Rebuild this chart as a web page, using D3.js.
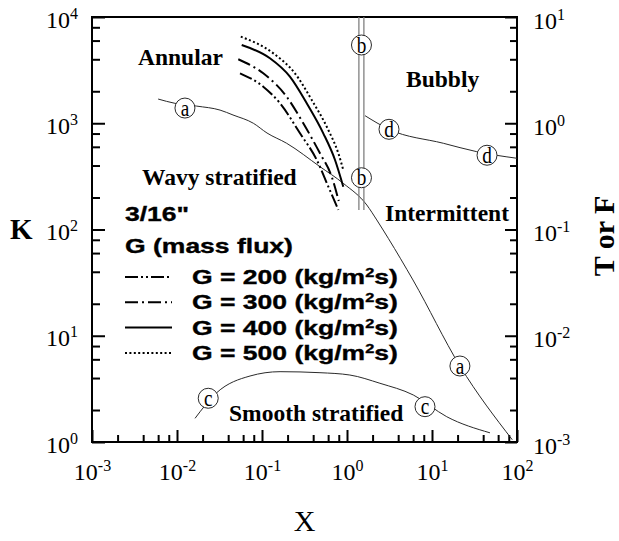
<!DOCTYPE html>
<html><head><meta charset="utf-8">
<script src="https://cdn.jsdelivr.net/npm/d3@7"></script>
<style>body{margin:0;background:#fff}svg{display:block}</style>
</head><body>
<svg id="chart" width="619" height="541"></svg>
<script>
// ---------- tick data ----------
const xMajor = [1e-3, 1e-2, 1e-1, 1e0, 1e1, 1e2];
const xTickExp = ["-3", "-2", "-1", "0", "1", "2"];
const kMajor = [1, 10, 100, 1000, 10000];
const kTickExp = ["0", "1", "2", "3", "4"];
const tfMajor = [1e-3, 1e-2, 1e-1, 1, 10];
const tfTickExp = ["-3", "-2", "-1", "0", "1"];
const minorSteps = [2, 4, 6, 8];

// ---------- transition curves ----------
// curve a : F versus X (right axis)
const curveA_X = [0.006, 0.00946, 0.01706, 0.0321, 0.0456, 0.0791, 0.1146, 0.195, 0.481, 0.904, 1.71, 2.24, 3.06, 5.97, 21.3, 88];
const curveA_F = [1.69, 1.54, 1.45, 1.33, 1.196, 1.0, 0.809, 0.648, 0.390, 0.272, 0.170, 0.123, 0.0826, 0.0335, 0.00519, 0.00105];
// curve b : constant X boundary (double line)
const curveB_X = [1.38, 1.58];
const curveB_K = [10000, 153];
// curve c : K versus X (left axis)
const curveC_X = [0.0163, 0.0293, 0.0723, 0.163, 0.481, 1.08, 2.44, 6.03, 14.9, 48.1];
const curveC_K = [1.67, 2.91, 4.18, 4.59, 4.49, 4.27, 3.57, 2.77, 1.73, 1.22];
// curve d : T versus X (right axis)
const curveD_X = [1.63, 3.12, 13.6, 33.6, 100];
const curveD_T = [1.178, 0.877, 0.648, 0.540, 0.468];

// circled curve labels
const labelA = [[0.0124, 1.39], [21.3, 0.00519]];   // X, F
const labelB = [[1.48, 5.45], [1.48, 0.307]];       // X, T
const labelC = [[0.0233, 2.58], [8.27, 2.15]];      // X, K
const labelD = [[3.12, 0.877], [44.4, 0.50]];       // X, T

// ---------- annular transition for each mass flux (K versus X) ----------
const massFlux = [200, 300, 400, 500];
const g200_X = [0.0551, 0.1035, 0.163, 0.28, 0.441, 0.603, 0.791];
const g200_K = [2950, 2210, 1541, 804, 451, 253, 153];
const g300_X = [0.0526, 0.1035, 0.195, 0.306, 0.481, 0.661, 0.80];
const g300_K = [4000, 2950, 1778, 1000, 521, 314, 185];
const g400_X = [0.0577, 0.124, 0.213, 0.336, 0.526, 0.723, 0.904];
const g400_K = [5450, 4085, 2743, 1541, 804, 451, 253];
const g500_X = [0.0563, 0.136, 0.244, 0.385, 0.603, 0.791, 0.904];
const g500_K = [6530, 4550, 2950, 1656, 864, 521, 363];
const gDash = ["13,3,2,3,2,3", "13,4,2,4", null, "2,2.4"];

// region names
const regionNames = ["Annular", "Bubbly", "Wavy stratified", "Intermittent", "Smooth stratified"];

// ---------- drawing ----------
const svg = d3.select("#chart");
const L = 92, R = 517, T = 17, B = 442;
const x = d3.scaleLog().domain([1e-3, 1e2]).range([L, R]);
const yK = d3.scaleLog().domain([1, 1e4]).range([B, T]);
const yTF = d3.scaleLog().domain([1e-3, 1e1]).range([B, T]);

const minors = majors => majors.slice(0, -1).flatMap(m => minorSteps.map(s => m * s));
const SERIF = "'Liberation Serif','Times New Roman',serif";
const SANS = "'Liberation Sans',Arial,sans-serif";

function powerLabels(g, exps, supDy) {
  g.selectAll(".tick text").each(function (d, i) {
    const t = d3.select(this);
    t.text(null);
    t.append("tspan").text("10");
    t.append("tspan").attr("dy", supDy).attr("font-size", 16).text(exps[i]);
  });
}
function styleAxis(g) {
  g.select(".domain").remove();
  g.selectAll(".tick line").attr("stroke", "#000").attr("stroke-width", 2);
  g.attr("font-family", SERIF).attr("font-size", 24);
  g.selectAll(".tick text").attr("fill", "#000");
}

// bottom axis
const gxMinor = svg.append("g").attr("transform", `translate(0,${B})`)
  .call(d3.axisBottom(x).tickValues(minors(xMajor)).tickSizeInner(-7).tickSizeOuter(0).tickFormat(""));
styleAxis(gxMinor);
const gx = svg.append("g").attr("transform", `translate(0,${B})`)
  .call(d3.axisBottom(x).tickValues(xMajor).tickSizeInner(-12).tickSizeOuter(0).tickPadding(21));
styleAxis(gx);
powerLabels(gx, xTickExp, -9);

// left axis (K)
const gyMinor = svg.append("g").attr("transform", `translate(${L},0)`)
  .call(d3.axisLeft(yK).tickValues(minors(kMajor)).tickSizeInner(-8).tickSizeOuter(0).tickFormat(""));
styleAxis(gyMinor);
const gy = svg.append("g").attr("transform", `translate(${L},0)`)
  .call(d3.axisLeft(yK).tickValues(kMajor).tickSizeInner(-13).tickSizeOuter(0).tickPadding(14));
styleAxis(gy);
gy.selectAll(".tick text").attr("dy", "0.42em");
powerLabels(gy, kTickExp, -9);

// right axis (T or F)
const grMinor = svg.append("g").attr("transform", `translate(${R},0)`)
  .call(d3.axisRight(yTF).tickValues(minors(tfMajor)).tickSizeInner(-7).tickSizeOuter(0).tickFormat(""));
styleAxis(grMinor);
const gr = svg.append("g").attr("transform", `translate(${R},0)`)
  .call(d3.axisRight(yTF).tickValues(tfMajor).tickSizeInner(-12).tickSizeOuter(0).tickPadding(16));
styleAxis(gr);
gr.selectAll(".tick text").attr("dy", "0.46em");
powerLabels(gr, tfTickExp, -9);

// frame
svg.append("rect").attr("x", L).attr("y", T).attr("width", R - L).attr("height", B - T)
  .attr("fill", "none").attr("stroke", "#000").attr("stroke-width", 2);

// axis titles
svg.append("text").attr("x", 10).attr("y", 239).attr("font-family", SERIF)
  .attr("font-weight", "bold").attr("font-size", 29).text("K");
svg.append("text").attr("transform", "translate(614,236) rotate(-90)").attr("text-anchor", "middle")
  .attr("font-family", SERIF).attr("font-weight", "bold").attr("font-size", 30).text("T or F");
svg.append("text").attr("x", (L + R) / 2).attr("y", 531).attr("text-anchor", "middle")
  .attr("font-family", SERIF).attr("font-size", 30).text("X");

const plot = svg.append("g");
const zip = (a, b) => a.map((v, i) => [v, b[i]]);
const thin = { stroke: "#2a2a2a", width: 1 };

function drawCurve(pts, yScale, style) {
  const line = d3.line().x(d => x(d[0])).y(d => yScale(d[1])).curve(d3.curveMonotoneX);
  const p = plot.append("path").attr("d", line(pts)).attr("fill", "none")
    .attr("stroke", style.stroke).attr("stroke-width", style.width);
  if (style.dash) p.attr("stroke-dasharray", style.dash);
  return p;
}

drawCurve(zip(curveA_X, curveA_F), yTF, thin);
drawCurve(zip(curveC_X, curveC_K), yK, thin);
drawCurve(zip(curveD_X, curveD_T), yTF, thin);
curveB_X.forEach(v => {
  plot.append("line").attr("x1", x(v)).attr("x2", x(v))
    .attr("y1", yK(curveB_K[0])).attr("y2", yK(curveB_K[1]))
    .attr("stroke", "#808080").attr("stroke-width", 1.3);
});

const gSeries = [zip(g200_X, g200_K), zip(g300_X, g300_K), zip(g400_X, g400_K), zip(g500_X, g500_K)];
gSeries.forEach((pts, i) => drawCurve(pts, yK, { stroke: "#000", width: 2, dash: gDash[i] }));

// circled labels
function circled(list, yScale, letter) {
  list.forEach(([vx, vy]) => {
    const g = plot.append("g").attr("transform", `translate(${x(vx)},${yScale(vy)})`);
    g.append("circle").attr("r", 10).attr("fill", "#fff").attr("stroke", "#2a2a2a").attr("stroke-width", 1);
    g.append("text").attr("text-anchor", "middle").attr("dy", "0.32em")
      .attr("font-family", SERIF).attr("font-size", 24).attr("transform", "scale(0.8,1)").text(letter);
  });
}
circled(labelA, yTF, "a");
circled(labelB, yTF, "b");
circled(labelC, yK, "c");
circled(labelD, yTF, "d");

// region names
const regionPos = [[138, 65], [406, 87], [142, 185], [385, 221], [229, 421]];
regionNames.forEach((name, i) => {
  svg.append("text").attr("x", regionPos[i][0]).attr("y", regionPos[i][1])
    .attr("font-family", SERIF).attr("font-weight", "bold").attr("font-size", 23.5).text(name);
});

// legend
const legend = svg.append("g");
function wideText(xp, yp, parts) {
  const t = legend.append("text").attr("transform", `translate(${xp},${yp}) scale(1.36,1)`)
    .attr("font-family", SANS).attr("font-weight", "bold").attr("font-size", 19.5)
    .attr("stroke", "#000").attr("stroke-width", 0.35);
  parts.forEach(p => {
    const s = t.append("tspan").text(p.t);
    if (p.sup) s.attr("dy", -7).attr("font-size", 12);
    if (p.down) s.attr("dy", 7);
  });
}
wideText(125, 221, [{ t: '3/16"' }]);
wideText(125, 253, [{ t: "G (mass flux)" }]);
massFlux.forEach((gv, i) => {
  const yy = 277 + i * 25.3;
  const ln = legend.append("line").attr("x1", 125).attr("x2", 172).attr("y1", yy).attr("y2", yy)
    .attr("stroke", "#000").attr("stroke-width", 2);
  if (gDash[i]) ln.attr("stroke-dasharray", gDash[i]);
  wideText(192, yy + 7, [{ t: `G = ${gv} (kg/m` }, { t: "2", sup: true }, { t: "s)", down: true }]);
});
</script>
</body></html>
